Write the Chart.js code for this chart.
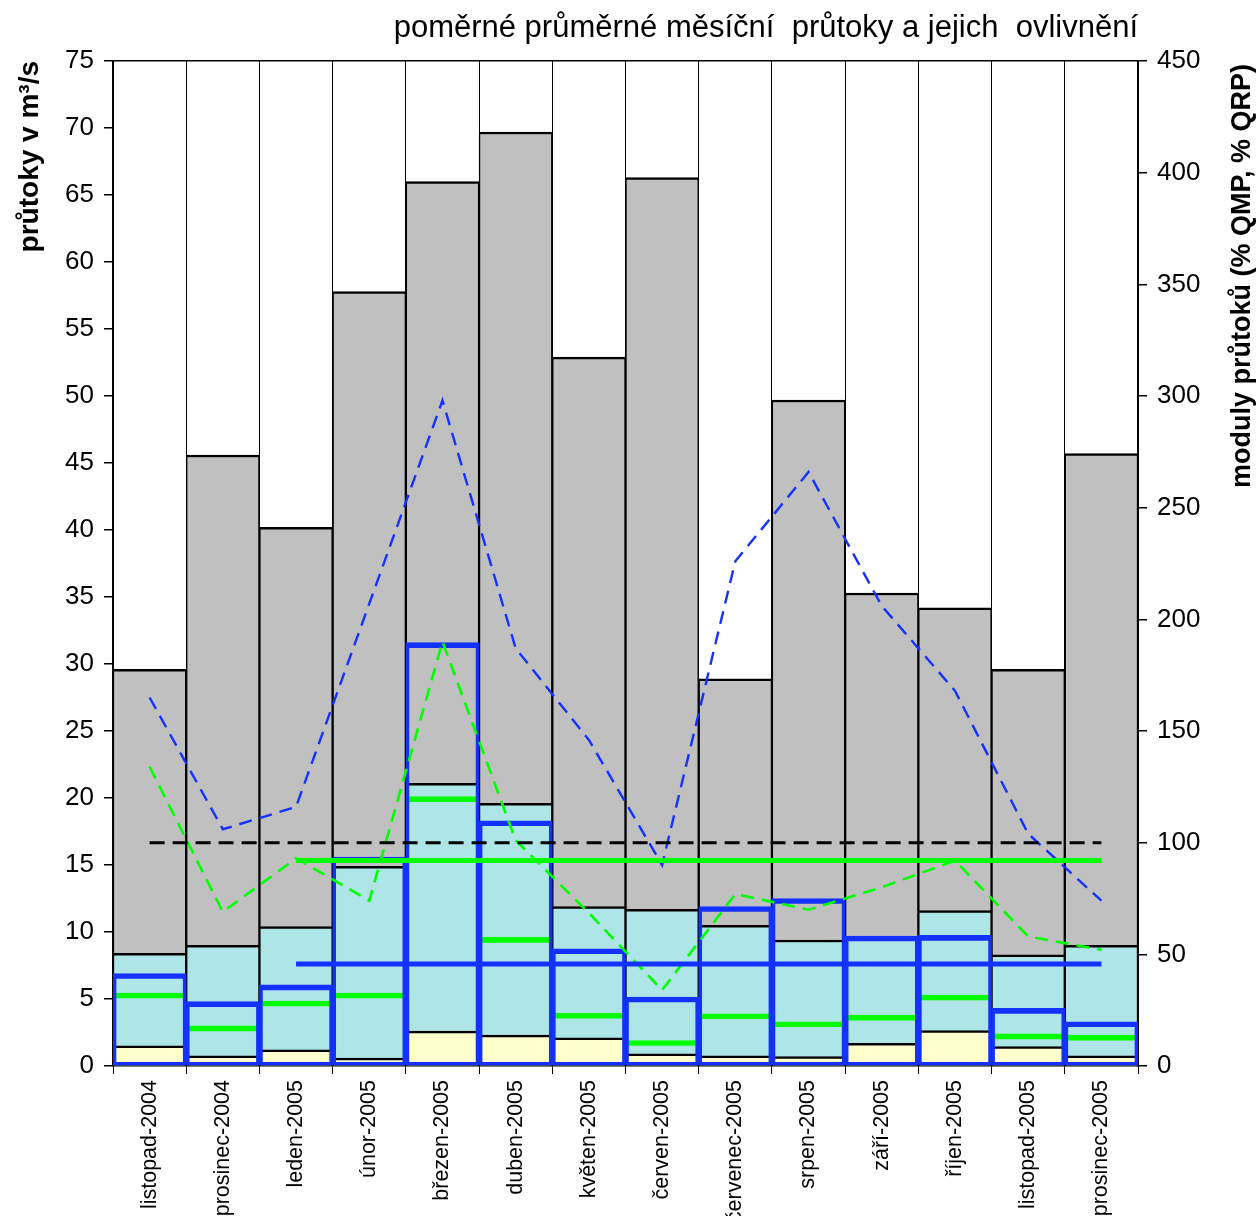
<!DOCTYPE html>
<html>
<head>
<meta charset="utf-8">
<script src="https://cdn.jsdelivr.net/npm/chart.js@4"></script>
<style>
  body { margin: 0; background: #fff; }
  #wrap { width: 1260px; height: 1216px; }
</style>
</head>
<body>
<div id="wrap"><canvas id="chart" width="1260" height="1216"></canvas></div>
<script>
// měsíce
const months = ['listopad-2004', 'prosinec-2004', 'leden-2005', 'únor-2005', 'březen-2005', 'duben-2005',
  'květen-2005', 'červen-2005', 'červenec-2005', 'srpen-2005', 'září-2005', 'říjen-2005',
  'listopad-2005', 'prosinec-2005'];

// průtoky v m3/s (levá osa)
const qMax = [29.6, 45.6, 40.2, 57.8, 66.0, 69.7, 52.9, 66.3, 28.9, 49.7, 35.3, 34.2, 29.6, 45.7];
const qMean = [8.4, 9.0, 10.4, 14.9, 21.1, 19.6, 11.9, 11.7, 10.5, 9.4, 9.5, 11.6, 8.3, 9.0];
const qMin = [1.5, 0.75, 1.2, 0.6, 2.6, 2.3, 2.1, 0.9, 0.75, 0.7, 1.7, 2.65, 1.45, 0.75];
const qMedian = [5.45, 3.0, 4.85, 5.45, 20.1, 9.6, 3.95, 1.9, 3.9, 3.3, 3.8, 5.3, 2.4, 2.3];
const qMonth = [6.9, 4.8, 6.05, 15.6, 31.6, 18.3, 8.75, 5.15, 11.9, 12.5, 9.7, 9.75, 4.3, 3.3];

// moduly v % (pravá osa)
const pctBlue = [165, 106, 116, 207, 298, 187, 146, 90, 226, 266, 206, 168, 104, 74];
const pctGreen = [134, 69, 93, 74, 190, 101, 68.5, 34, 77, 70, 80, 92, 58, 52];
const level100 = [100, 100, 100, 100, 100, 100, 100, 100, 100, 100, 100, 100, 100, 100];
const levelGreen = [null, null, 92, 92, 92, 92, 92, 92, 92, 92, 92, 92, 92, 92];
const levelBlue = [null, null, 45.7, 45.7, 45.7, 45.7, 45.7, 45.7, 45.7, 45.7, 45.7, 45.7, 45.7, 45.7];

const leftTicks = { min: 0, max: 75, step: 5 };
const rightTicks = { min: 0, max: 450, step: 50 };

const chartTitle = 'poměrné průměrné měsíční  průtoky a jejich  ovlivnění';
const leftAxisTitle = 'průtoky v m³/s';
const rightAxisTitle = 'moduly průtoků (% QMP, % QRP)';

const FONT = '"Liberation Sans", Arial, sans-serif';
const BLUE = '#1432ff';
const GREEN = '#00ff00';

// popisek pravé osy se čte zdola nahoru, Chart.js ho otáčí opačně
const rightTitle = {
  id: 'rightTitle',
  afterDraw(chart) {
    const ctx = chart.ctx;
    ctx.save();
    ctx.translate(chart.width - 17, chart.chartArea.top + 3);
    ctx.rotate(-Math.PI / 2);
    ctx.font = 'bold 27px ' + FONT;
    ctx.fillStyle = '#000';
    ctx.textAlign = 'right';
    ctx.textBaseline = 'middle';
    ctx.fillText(rightAxisTitle, 0, 0);
    ctx.restore();
  }
};

const barBorder = { top: 2.5, left: 1.5, right: 1.5, bottom: 0 };

new Chart(document.getElementById('chart'), {
  type: 'bar',
  data: {
    labels: months,
    datasets: [
      { label: 'max', data: qMax, backgroundColor: '#c0c0c0', borderColor: '#000', borderWidth: barBorder,
        grouped: false, categoryPercentage: 1, barPercentage: 1, order: 12 },
      { label: 'průměr', data: qMean, backgroundColor: '#aee5e6', borderColor: '#000', borderWidth: barBorder,
        grouped: false, categoryPercentage: 1, barPercentage: 1, order: 11 },
      { label: 'min', data: qMin, backgroundColor: '#ffffcc', borderColor: '#000', borderWidth: barBorder,
        grouped: false, categoryPercentage: 1, barPercentage: 1, order: 10 },
      { label: 'medián', data: qMedian, backgroundColor: 'rgba(0,0,0,0)', borderColor: GREEN,
        borderWidth: { top: 5, left: 0, right: 0, bottom: 0 }, borderSkipped: false,
        grouped: false, categoryPercentage: 1, barPercentage: 1, order: 9 },
      { label: 'měsíc', data: qMonth, backgroundColor: 'rgba(0,0,0,0)', borderColor: BLUE,
        borderWidth: { top: 5, left: 3, right: 3, bottom: 3 }, borderSkipped: false,
        grouped: false, categoryPercentage: 1, barPercentage: 1, order: 8 },
      { type: 'line', label: '% QMP', data: pctBlue, yAxisID: 'y1', borderColor: BLUE, borderWidth: 2.4,
        borderDash: [13, 8], pointRadius: 0, tension: 0, fill: false, order: 7 },
      { type: 'line', label: '% QRP', data: pctGreen, yAxisID: 'y1', borderColor: GREEN, borderWidth: 2.6,
        borderDash: [13, 8], pointRadius: 0, tension: 0, fill: false, order: 6 },
      { type: 'line', label: '100 %', data: level100, yAxisID: 'y1', borderColor: '#000', borderWidth: 3,
        borderDash: [15, 8], pointRadius: 0, fill: false, order: 5 },
      { type: 'line', label: 'modrá úroveň', data: levelBlue, yAxisID: 'y1', borderColor: BLUE, borderWidth: 5,
        pointRadius: 0, fill: false, order: 4 },
      { type: 'line', label: 'zelená úroveň', data: levelGreen, yAxisID: 'y1', borderColor: GREEN, borderWidth: 5,
        pointRadius: 0, fill: false, order: 3 }
    ]
  },
  options: {
    responsive: false,
    animation: false,
    devicePixelRatio: 1,
    layout: { padding: 0 },
    plugins: {
      legend: { display: false },
      tooltip: { enabled: false },
      title: {
        display: true, text: chartTitle, align: 'end', fullSize: false, color: '#000',
        font: { family: FONT, size: 31, weight: 'normal' },
        padding: { top: 9.4, bottom: 14.4 }
      }
    },
    scales: {
      x: {
        offset: true,
        grid: { offset: true, color: '#000', lineWidth: 1, tickLength: 8, tickColor: '#000' },
        border: { color: '#000', width: 1.5 },
        ticks: { color: '#000', font: { family: FONT, size: 21.5 }, minRotation: 90, maxRotation: 90, padding: 6, autoSkip: false },
        afterFit: (s) => { s.height = 150; }
      },
      y: {
        position: 'left', min: leftTicks.min, max: leftTicks.max,
        ticks: { stepSize: leftTicks.step, color: '#000', font: { family: FONT, size: 26 }, padding: 10 },
        grid: {
          color: (c) => (c.tick && c.tick.value === leftTicks.max ? '#000' : 'rgba(0,0,0,0)'),
          tickColor: '#000', tickLength: 9, lineWidth: 1.5
        },
        border: { color: '#000', width: 1.5 },
        title: { display: true, text: leftAxisTitle, align: 'end', color: '#000',
          font: { family: FONT, size: 28, weight: 'bold' }, padding: { top: 13, bottom: 0 } },
        afterFit: (s) => { s.width = 113; }
      },
      y1: {
        position: 'right', min: rightTicks.min, max: rightTicks.max,
        ticks: { stepSize: rightTicks.step, color: '#000', font: { family: FONT, size: 26 }, padding: 10 },
        grid: { drawOnChartArea: false, tickColor: '#000', tickLength: 9, lineWidth: 1.5 },
        border: { color: '#000', width: 1.5 },
        afterFit: (s) => { s.width = 122; }
      }
    }
  },
  plugins: [rightTitle]
});
</script>
</body>
</html>
